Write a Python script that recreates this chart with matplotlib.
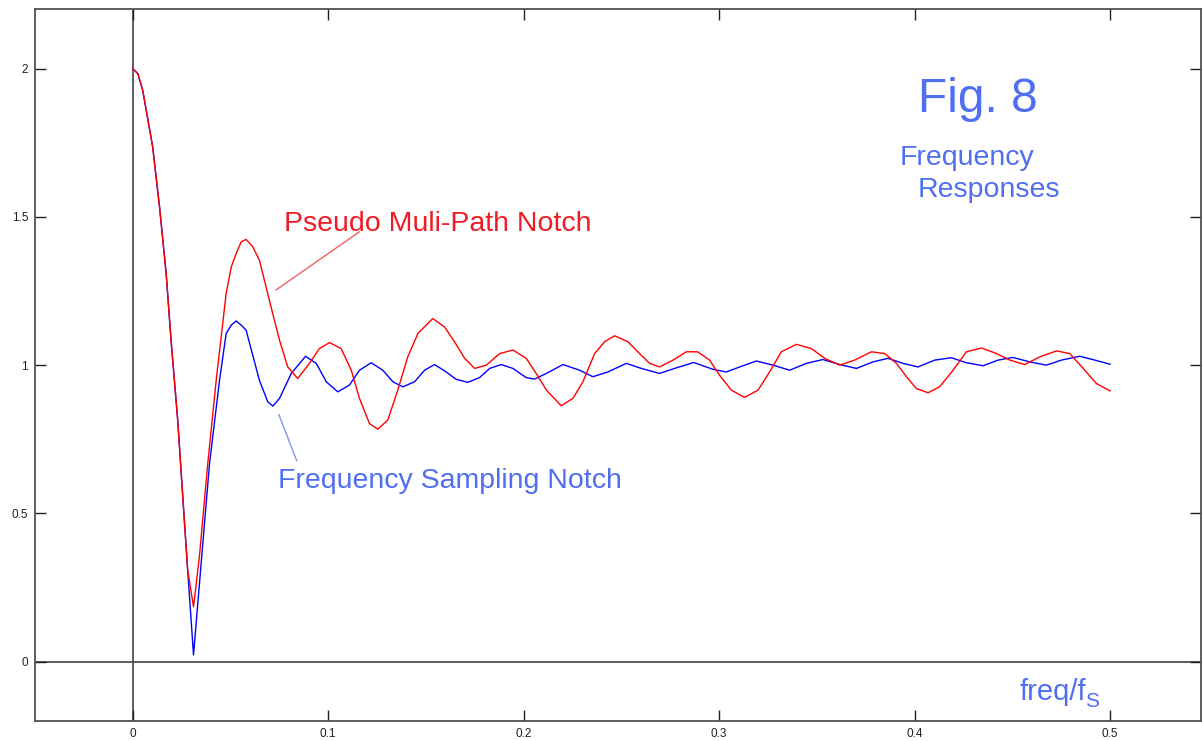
import matplotlib
matplotlib.use("Agg")
import matplotlib.pyplot as plt

plt.rcParams['font.family'] = ['Liberation Sans', 'DejaVu Sans']

# ---- Frequency sampling notch (blue) ----
fs_freq = [0.0, 0.0026, 0.0051, 0.0102, 0.0137, 0.0171, 0.0196, 0.023, 0.0256,
           0.0281, 0.0311, 0.035, 0.0393, 0.0444, 0.0478, 0.0504, 0.0529, 0.0555,
           0.058, 0.0648, 0.0691, 0.0717, 0.0751, 0.0811, 0.0884, 0.0939, 0.099,
           0.1049, 0.1109, 0.116, 0.122, 0.1279, 0.1331, 0.1382, 0.1442, 0.1493,
           0.1544, 0.1604, 0.1655, 0.1714, 0.1774, 0.1826, 0.1885, 0.1945, 0.2013,
           0.2056, 0.2116, 0.2201, 0.2286, 0.2354, 0.2431, 0.2525, 0.2602, 0.2695,
           0.2772, 0.2870, 0.2968, 0.3037, 0.3105, 0.319, 0.3275, 0.3361, 0.3446,
           0.3531, 0.3617, 0.3702, 0.3787, 0.3864, 0.3941, 0.4017, 0.4103, 0.4188,
           0.4265, 0.435, 0.4427, 0.4503, 0.4589, 0.4674, 0.4751, 0.4845, 0.4922,
           0.5]
fs_mag = [2.0, 1.983, 1.927, 1.736, 1.534, 1.309, 1.084, 0.815, 0.556,
          0.309, 0.023, 0.332, 0.669, 0.949, 1.107, 1.135, 1.149, 1.135,
          1.118, 0.949, 0.876, 0.862, 0.888, 0.972, 1.030, 1.006, 0.944,
          0.910, 0.933, 0.983, 1.008, 0.983, 0.944, 0.927, 0.944, 0.983,
          1.002, 0.977, 0.952, 0.942, 0.958, 0.989, 1.002, 0.989, 0.958,
          0.953, 0.972, 1.002, 0.983, 0.961, 0.977, 1.006, 0.989, 0.972,
          0.989, 1.009, 0.986, 0.977, 0.994, 1.014, 1.000, 0.983, 1.006,
          1.019, 1.002, 0.989, 1.011, 1.023, 1.006, 0.994, 1.017, 1.025,
          1.008, 0.998, 1.017, 1.026, 1.011, 1.000, 1.017, 1.030, 1.017,
          1.003]

# ---- Pseudo multi-path notch (red) ----
pm_freq = [0.0, 0.0026, 0.0051, 0.0102, 0.0137, 0.0171, 0.0196, 0.023, 0.0256,
           0.0281, 0.0311, 0.0341, 0.0384, 0.0427, 0.0478, 0.0504, 0.0529, 0.0555,
           0.058, 0.0614, 0.0648, 0.0716, 0.0751, 0.0793, 0.0844, 0.0904, 0.0955,
           0.1007, 0.1066, 0.1118, 0.116, 0.1211, 0.1254, 0.1305, 0.1356, 0.1407,
           0.1459, 0.1535, 0.1595, 0.1646, 0.1698, 0.1749, 0.1809, 0.1877, 0.1945,
           0.2013, 0.2064, 0.2116, 0.2192, 0.2252, 0.2303, 0.2363, 0.2414, 0.2465,
           0.2533, 0.2593, 0.2644, 0.2695, 0.2764, 0.2832, 0.2890, 0.2951, 0.3002,
           0.3062, 0.313, 0.3199, 0.3258, 0.3318, 0.3395, 0.3472, 0.354, 0.3617,
           0.3693, 0.3779, 0.3847, 0.3907, 0.3958, 0.4009, 0.4069, 0.4128, 0.4197,
           0.4265, 0.4342, 0.4419, 0.4487, 0.4563, 0.464, 0.4726, 0.4794, 0.4862,
           0.493, 0.5]
pm_mag = [2.0, 1.983, 1.927, 1.736, 1.534, 1.309, 1.084, 0.815, 0.556,
          0.309, 0.185, 0.354, 0.669, 0.949, 1.242, 1.331, 1.376, 1.416,
          1.424, 1.399, 1.354, 1.174, 1.084, 0.994, 0.955, 1.006, 1.056,
          1.076, 1.056, 0.983, 0.888, 0.803, 0.784, 0.815, 0.916, 1.028,
          1.107, 1.157, 1.129, 1.079, 1.023, 0.989, 1.000, 1.039, 1.051,
          1.023, 0.972, 0.916, 0.863, 0.888, 0.944, 1.039, 1.079, 1.099,
          1.079, 1.039, 1.006, 0.994, 1.017, 1.045, 1.045, 1.017, 0.966,
          0.916, 0.891, 0.916, 0.977, 1.045, 1.070, 1.056, 1.023, 1.000,
          1.017, 1.045, 1.039, 1.006, 0.961, 0.921, 0.907, 0.927, 0.983,
          1.045, 1.058, 1.039, 1.017, 1.002, 1.028, 1.048, 1.039, 0.989,
          0.938, 0.913]

x_ticks = [0, 0.1, 0.2, 0.3, 0.4, 0.5]
x_tick_labels = ['0', '0.1', '0.2', '0.3', '0.4', '0.5']
y_ticks = [0, 0.5, 1, 1.5, 2]
y_tick_labels = ['0', '0.5', '1', '1.5', '2']

txt_blue = '#506ef0'
axis_gray = '#505050'

fig = plt.figure(figsize=(12.02, 7.41), dpi=100)
ax = fig.add_axes([35 / 1202, 20 / 741, 1166 / 1202, 711.7 / 741])

# axes through the origin
ax.axhline(0, color=axis_gray, lw=1.3, zorder=1)
ax.axvline(0, color=axis_gray, lw=1.3, zorder=1)

ax.plot(fs_freq, fs_mag, color='#0000ff', lw=1.0, zorder=3)
ax.plot(pm_freq, pm_mag, color='#ff0000', lw=1.0, zorder=4)

ax.set_xlim(-0.05, 0.5465)
ax.set_ylim(-0.2, 2.2)
ax.set_xticks(x_ticks)
ax.set_xticklabels(x_tick_labels)
ax.set_yticks(y_ticks)
ax.set_yticklabels(y_tick_labels)
ax.tick_params(direction='in', length=8, width=1, color='#202020',
               top=True, right=True, labelsize=8.5, labelcolor='#202020', pad=5)
for sp in ax.spines.values():
    sp.set_color(axis_gray)
    sp.set_linewidth(1.3)

# labels with leader lines
ax.annotate('', xy=(0.0721, 1.248), xytext=(0.1171, 1.455),
            arrowprops=dict(arrowstyle='-', color='#f06060', lw=1.0))
ax.text(0.0776, 1.451, 'Pseudo Muli-Path Notch', color='#ee1c24',
        fontsize=20.5, ha='left', va='baseline')

ax.annotate('', xy=(0.0742, 0.843), xytext=(0.0844, 0.669),
            arrowprops=dict(arrowstyle='-', color='#8096f0', lw=1.0))
ax.text(0.0741, 0.585, 'Frequency Sampling Notch', color=txt_blue,
        fontsize=20.5, ha='left', va='baseline')

ax.text(0.4015, 1.852, 'Fig. 8', color=txt_blue, fontsize=34.5,
        ha='left', va='baseline')
ax.text(0.3924, 1.674, 'Frequency', color=txt_blue, fontsize=20.5,
        ha='left', va='baseline')
ax.text(0.4016, 1.566, 'Responses', color=txt_blue, fontsize=20.5,
        ha='left', va='baseline')

# x-axis label freq/f_S
lbl = ax.text(0.4538, -0.129, 'freq/f', color=txt_blue, fontsize=21,
              ha='left', va='baseline')
fig.canvas.draw()
bb = lbl.get_window_extent().transformed(ax.transData.inverted())
ax.text(bb.x1 - 0.0005, -0.152, 'S', color=txt_blue, fontsize=15,
        ha='left', va='baseline')

fig.savefig('out.png', dpi=100, facecolor='white')
